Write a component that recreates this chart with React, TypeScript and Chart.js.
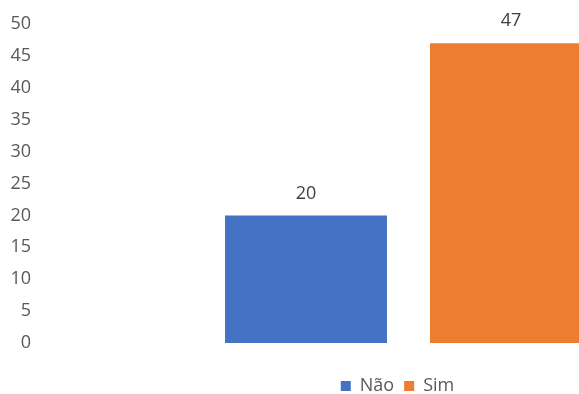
import React, { useEffect, useRef } from "react";
import { Chart, registerables } from "chart.js";

Chart.register(...registerables);

const categories = [""];
const seriesNames = ["Não", "Sim"];
const naoValues = [20];
const simValues = [47];
const yTicks = [0, 5, 10, 15, 20, 25, 30, 35, 40, 45, 50];

const FONT = "'Open Sans', 'Noto Sans', sans-serif";

const valueLabels = {
  id: "valueLabels",
  afterDatasetsDraw(chart: any) {
    const ctx = chart.ctx;
    ctx.save();
    ctx.font = `18px ${FONT}`;
    ctx.fillStyle = "#404040";
    ctx.textAlign = "center";
    ctx.textBaseline = "middle";
    chart.data.datasets.forEach((ds: any, di: number) => {
      const meta = chart.getDatasetMeta(di);
      meta.data.forEach((el: any, i: number) => {
        ctx.fillText(String(ds.data[i]), el.x, el.y - 22);
      });
    });
    ctx.restore();
  },
};

export default function App() {
  const ref = useRef<HTMLCanvasElement>(null);
  useEffect(() => {
    if (!ref.current) return;
    const chart = new Chart(ref.current, {
      type: "bar",
      data: {
        labels: categories,
        datasets: [
          {
            label: seriesNames[0],
            data: naoValues,
            backgroundColor: "#4472C4",
            categoryPercentage: 410 / 737,
            barPercentage: 0.79,
          },
          {
            label: seriesNames[1],
            data: simValues,
            backgroundColor: "#ED7D31",
            categoryPercentage: 410 / 737,
            barPercentage: 0.79,
          },
        ],
      },
      options: {
        responsive: false,
        animation: false,
        devicePixelRatio: 1,
        layout: { padding: { top: 24, left: 0, right: 0, bottom: 0 } },
        plugins: {
          legend: {
            position: "bottom",
            labels: {
              boxWidth: 10,
              boxHeight: 10,
              padding: 10,
              color: "#595959",
              font: { family: FONT, size: 18 },
            },
          },
          tooltip: { enabled: false },
        },
        scales: {
          x: {
            display: true,
            grid: { display: false, drawTicks: false },
            border: { display: false },
            ticks: { display: false },
            title: {
              display: true,
              text: "",
              font: { size: 12, lineHeight: 1 },
              padding: { top: 6, bottom: 6 },
            },
          },
          y: {
            min: 0,
            max: 50,
            afterFit: (s: any) => {
              s.width = 40;
            },
            afterBuildTicks: (s: any) => {
              s.ticks = yTicks.map((v) => ({ value: v }));
            },
            grid: { display: false, drawTicks: false },
            border: { display: false },
            ticks: {
              stepSize: 5,
              padding: 9,
              color: "#595959",
              font: { family: FONT, size: 18 },
            },
          },
          yRight: {
            position: "right",
            display: true,
            min: 0,
            max: 50,
            afterFit: (s: any) => {
              s.width = 18;
            },
            grid: { display: false, drawTicks: false },
            border: { display: false },
            ticks: { display: false },
          },
        },
      },
      plugins: [valueLabels],
    });
    return () => chart.destroy();
  }, []);
  return (
    <div
      style={{
        position: "fixed",
        left: 0,
        top: 0,
        width: 579,
        height: 394,
        overflow: "hidden",
        background: "#fff",
      }}
    >
      <canvas ref={ref} width={795} height={405} style={{ display: "block" }} />
    </div>
  );
}
